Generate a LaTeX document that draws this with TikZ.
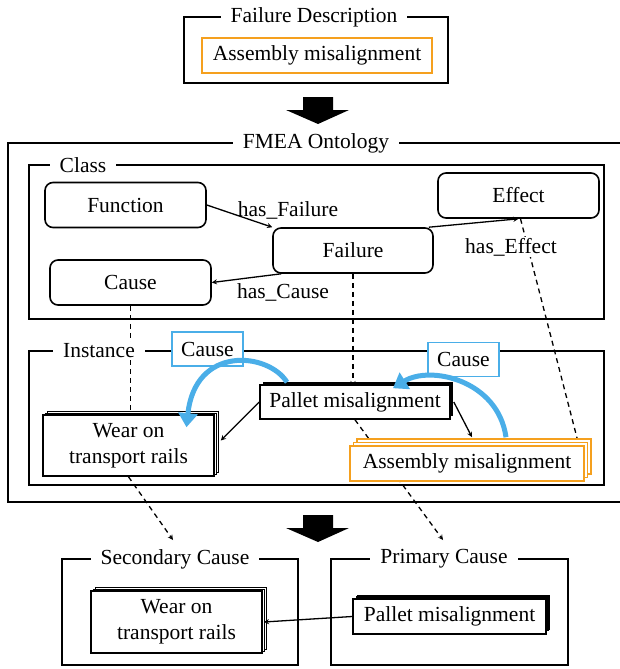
\documentclass[tikz,border=0pt]{standalone}
\usepackage{fontspec}
\setmainfont{Liberation Serif}
\usetikzlibrary{arrows, arrows.meta, shadows, positioning}
\definecolor{causeblue}{RGB}{74,174,232}
\definecolor{failorange}{RGB}{245,160,30}
\tikzstyle{arrow} = [->,>=stealth,line width=1.3pt]
\tikzstyle{dasharrow} = [arrow, dash pattern=on 5pt off 4pt]
\tikzstyle{frame} = [draw, line width=1.8pt, inner sep=0pt]
\tikzstyle{title} = [fill=white, inner xsep=10pt, inner ysep=2pt]
\tikzstyle{cls} = [draw, line width=1.6pt, rounded corners=8pt, minimum width=161pt, minimum height=45pt]
\tikzstyle{inst} = [draw, fill=white, line width=1.6pt, align=center, inner xsep=4pt]
\tikzstyle{stack} = [inst, copy shadow={shadow xshift=4pt, shadow yshift=4pt, draw=black, fill=white, line width=0.9pt}, copy shadow={shadow xshift=2pt, shadow yshift=2pt, draw=black, fill=white, line width=0.9pt}]
\tikzstyle{orangestack} = [inst, draw=failorange, copy shadow={shadow xshift=7pt, shadow yshift=7pt, draw=failorange, fill=white, line width=1.2pt}, copy shadow={shadow xshift=3.5pt, shadow yshift=3.5pt, draw=failorange, fill=white, line width=1.2pt}]
\tikzstyle{shadowed} = [inst, general shadow={shadow xshift=3pt, shadow yshift=3pt, fill=black}]
\tikzstyle{causetag} = [draw=causeblue, fill=white, line width=1.6pt, minimum width=71pt, minimum height=34pt]
\tikzstyle{bluearrow} = [draw=causeblue, line width=5pt, -{Triangle[width=19pt,length=14pt]}]
\pgfdeclarelayer{bg}
\pgfsetlayers{bg,main}

\begin{document}
\begin{tikzpicture}[x=1pt, y=-1pt, font=\fontsize{21.5}{26}\selectfont]
        % 绘制失效推理结构图
        \useasboundingbox (0,0) rectangle (619,669);

        \node[frame, minimum width=264pt, minimum height=66pt] (desc) at (316,50) {};
        \node[title] (desctitle) at (314,17) {Failure Description};
        \node[inst, draw=failorange, minimum width=230pt, minimum height=35pt] (query) at (317,55.5) {Assembly misalignment};
        \fill (303,97) -- (333,97) -- (333,110) -- (349,110) -- (318,124) -- (286,110) -- (303,110) -- cycle;

        \node[frame, minimum width=613pt, minimum height=359pt] (fmea) at (314.5,322.5) {};
        \node[title] (fmeatitle) at (316,143) {FMEA Ontology};
        \node[frame, minimum width=575pt, minimum height=154pt] (class) at (316.5,242) {};
        \node[title] (classtitle) at (83,165) {Class};
        \node[frame, minimum width=575pt, minimum height=134pt] (instance) at (316.5,418) {};
        \node[title] (insttitle) at (99,351) {Instance};

        \node[cls] (function) at (125.5,205) {Function};
        \node[cls] (effect) at (518.5,195.5) {Effect};
        \node[cls, minimum width=160pt] (failure) at (353,250.5) {Failure};
        \node[cls] (cause) at (130.5,282.5) {Cause};
        \node (hasfailure) at (288,210) {has\_Failure};
        \node[fill=white, inner sep=1pt] (haseffect) at (511,247) {has\_Effect};
        \node (hascause) at (283,292) {has\_Cause};

        \draw[arrow] (function.east) -- (failure.north west);
        \draw[arrow] ([xshift=-5pt]failure.north east) -- (effect.south);
        \draw[arrow] ([xshift=9pt]failure.south west) -- (cause.east);

        \node[causetag] (tagwear) at (207.5,349) {Cause};
        \node[causetag] (tagassembly) at (463.5,359.5) {Cause};
        \node[shadowed, minimum width=190pt, minimum height=34pt] (palleti) at (355,402) {Pallet misalignment};
        \node[stack, minimum width=171pt, minimum height=61pt] (weari) at (128.5,445.5) {Wear on\\transport rails};
        \node[orangestack, minimum width=234pt, minimum height=35pt] (assemblyi) at (467,463.5) {Assembly misalignment};

        \draw[arrow] (palleti.west) -- ([xshift=6pt,yshift=5pt]weari.east);
        \draw[arrow] ([xshift=3pt]palleti.east) -- ([xshift=5pt,yshift=8pt]assemblyi.north);

        \fill (303,515) -- (333,515) -- (333,528) -- (349,528) -- (318,542) -- (286,528) -- (303,528) -- cycle;

        \node[frame, minimum width=236pt, minimum height=106pt] (secondary) at (180,612) {};
        \node[title] (sectitle) at (175,559) {Secondary Cause};
        \node[frame, minimum width=237pt, minimum height=106pt] (primary) at (449.5,612) {};
        \node[title] (primtitle) at (444,559) {Primary Cause};
        \node[stack, minimum width=171pt, minimum height=62pt] (wears) at (176.5,622) {Wear on\\transport rails};
        \node[shadowed, general shadow={shadow xshift=4pt, shadow yshift=4pt, fill=black}, minimum width=193pt, minimum height=35pt] (palletp) at (449.5,616.5) {Pallet misalignment};
        \draw[arrow] (palletp.west) -- ([xshift=1pt]wears.east);

        \coordinate (secin) at (173,540);
        \coordinate (primin) at (443,540);
        \begin{pgfonlayer}{bg}
        \draw[dasharrow, shorten >=-4pt] (cause.south) -- (cause.south |- weari.north);
        \draw[dasharrow, shorten >=-2pt] (failure.south) -- (failure.south |- palleti.north);
        \draw[dasharrow] ([xshift=2pt]effect.south) -- ([xshift=-3pt,yshift=7pt]assemblyi.east);
        \draw[dasharrow] (weari.south) -- (secin);
        \draw[dasharrow] (palleti.south) -- (primin);
        \end{pgfonlayer}

        \draw[bluearrow] ([xshift=-68pt,yshift=2pt]palleti.north) .. controls (268,352) and (195,345) .. ([xshift=58pt,yshift=-13pt]weari.north);
        \draw[bluearrow] ([xshift=39pt,yshift=8pt]assemblyi.north) .. controls (498,380) and (430,365) .. ([xshift=38pt,yshift=-4pt]palleti.north);
    \end{tikzpicture}
\end{document}
